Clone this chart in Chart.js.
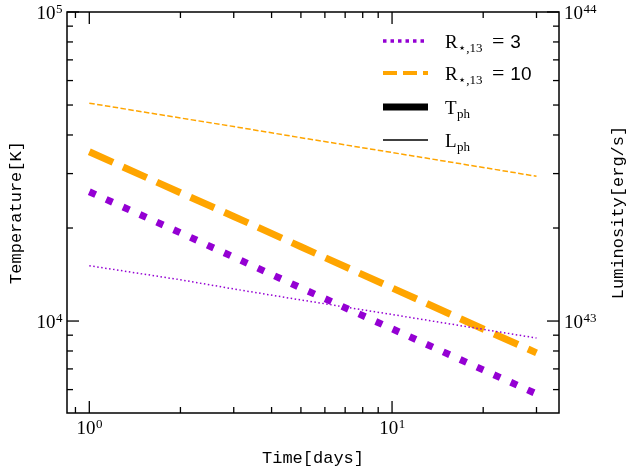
<!DOCTYPE html>
<html>
<head>
<meta charset="utf-8">
<script src="https://cdn.jsdelivr.net/npm/chart.js@4.4.1/dist/chart.umd.min.js"></script>
<style>
  html, body { margin: 0; padding: 0; background: #fff; }
  #wrap { width: 628px; height: 473px; }
</style>
</head>
<body>
<div id="wrap"><canvas id="chart" width="628" height="473"></canvas></div>
<script>
// values (power laws, straight in log-log)
const days = [1, 2, 3, 5, 10, 20, 30];
const tempR3 = [26200, 19300, 16100, 12800, 9440, 6950, 5810];
const tempR10 = [35300, 26000, 21800, 17400, 12800, 9420, 7890];
const lumR3 = [1.51e43, 1.36e43, 1.27e43, 1.17e43, 1.05e43, 9.40e42, 8.81e42];
const lumR10 = [5.07e43, 4.54e43, 4.26e43, 3.92e43, 3.51e43, 3.14e43, 2.94e43];

// ticks: positions, and base / exponent of the labelled ones
const xTicks = [0.9, 1, 2, 3, 4, 5, 6, 7, 8, 9, 10, 20, 30];
const xMajor = [1, 10];
const xMajorExp = ['0', '1'];
const tempTicks = [6000, 7000, 8000, 9000, 10000, 20000, 30000, 40000, 50000, 60000, 70000, 80000, 90000, 100000];
const tempMajor = [10000, 100000];
const tempMajorExp = ['4', '5'];
const lumTicks = [6e42, 7e42, 8e42, 9e42, 1e43, 2e43, 3e43, 4e43, 5e43, 6e43, 7e43, 8e43, 9e43, 1e44];
const lumMajor = [1e43, 1e44];
const lumMajorExp = ['43', '44'];

const PURPLE = '#9400D3';
const ORANGE = '#FFA500';
const SERIF = '"Liberation Serif", "DejaVu Serif", serif';
const SANS = '"Liberation Sans", Arial, sans-serif';
const MONO = '"Liberation Mono", "DejaVu Sans Mono", monospace';

function pts(ys) {
    return days.map((d, i) => ({ x: d, y: ys[i] }));
}

function isMajor(v) {
    const l = Math.log10(v);
    return Math.abs(l - Math.round(l)) < 1e-9;
}

// "10" with a raised exponent; align is 'left', 'right' or 'center' at x
function drawPower(ctx, exp, x, baseline, align) {
    ctx.font = '19px ' + SERIF;
    const wb = ctx.measureText('10').width;
    ctx.font = '13px ' + SERIF;
    const we = ctx.measureText(exp).width;
    let start = x;
    if (align === 'right') start = x - wb - we;
    if (align === 'center') start = x - (wb + we) / 2;
    ctx.textAlign = 'left';
    ctx.textBaseline = 'alphabetic';
    ctx.font = '19px ' + SERIF;
    ctx.fillText('10', start, baseline);
    ctx.font = '13px ' + SERIF;
    ctx.fillText(exp, start + wb + 0.5, baseline - 6);
}

// frame, inward ticks, tick labels, legend and right-hand title
const decorations = {
    id: 'decorations',
    afterDraw(chart) {
        const { ctx, chartArea: a, scales } = chart;
        ctx.save();
        ctx.strokeStyle = '#000';
        ctx.fillStyle = '#000';
        ctx.lineWidth = 1.3;
        const seg = (x1, y1, x2, y2) => {
            ctx.beginPath();
            ctx.moveTo(x1, y1);
            ctx.lineTo(x2, y2);
            ctx.stroke();
        };
        xTicks.forEach(v => {
            const px = scales.x.getPixelForValue(v);
            const len = isMajor(v) ? 12 : 6;
            seg(px, a.bottom, px, a.bottom - len);
            seg(px, a.top, px, a.top + len);
        });
        tempTicks.forEach(v => {
            const py = scales.yT.getPixelForValue(v);
            const len = isMajor(v) ? 12 : 6;
            seg(a.left, py, a.left + len, py);
        });
        lumTicks.forEach(v => {
            const py = scales.yL.getPixelForValue(v);
            const len = isMajor(v) ? 12 : 6;
            seg(a.right, py, a.right - len, py);
        });
        ctx.lineWidth = 1.5;
        ctx.strokeRect(a.left, a.top, a.right - a.left, a.bottom - a.top);

        // tick labels
        xMajor.forEach((v, i) => {
            drawPower(ctx, xMajorExp[i], scales.x.getPixelForValue(v), a.bottom + 21, 'center');
        });
        tempMajor.forEach((v, i) => {
            drawPower(ctx, tempMajorExp[i], a.left - 5, scales.yT.getPixelForValue(v) + 7, 'right');
        });
        lumMajor.forEach((v, i) => {
            drawPower(ctx, lumMajorExp[i], a.right + 5, scales.yL.getPixelForValue(v) + 7, 'left');
        });

        // legend
        const x0 = a.right - 176, x1 = a.right - 131, tx = a.right - 114;
        const rows = [
            { y: a.top + 29, color: PURPLE, width: 3.5, dash: [3.5, 4], main: 'R', sub: '⋆,13', num: '3' },
            { y: a.top + 61, color: ORANGE, width: 4, dash: [14, 6], main: 'R', sub: '⋆,13', num: '10' },
            { y: a.top + 95, color: '#000', width: 7, dash: [], main: 'T', sub: 'ph', num: '' },
            { y: a.top + 128, color: '#000', width: 1.5, dash: [], main: 'L', sub: 'ph', num: '' }
        ];
        rows.forEach(r => {
            ctx.save();
            ctx.strokeStyle = r.color;
            ctx.lineWidth = r.width;
            ctx.lineCap = 'butt';
            ctx.setLineDash(r.dash);
            seg(x0, r.y, x1, r.y);
            ctx.restore();
            ctx.textBaseline = 'alphabetic';
            ctx.textAlign = 'left';
            let x = tx;
            const base = r.y + 7;
            ctx.font = '19px ' + SERIF;
            ctx.fillText(r.main, x, base);
            x += ctx.measureText(r.main).width;
            ctx.font = '13px ' + SERIF;
            ctx.fillText(r.sub, x + 0.5, base + 4);
            x += ctx.measureText(r.sub).width;
            if (r.num) {
                x += 10;
                ctx.font = '22px ' + SERIF;
                ctx.fillText('=', x, base);
                x += ctx.measureText('=').width + 6;
                ctx.font = '19px ' + SANS;
                ctx.fillText(r.num, x, base);
            }
        });

        // right axis title, reading bottom to top like the left one
        ctx.save();
        ctx.translate(chart.width - 10, (a.top + a.bottom) / 2);
        ctx.rotate(-Math.PI / 2);
        ctx.font = '17px ' + MONO;
        ctx.textAlign = 'center';
        ctx.textBaseline = 'middle';
        ctx.fillText('Luminosity[erg/s]', 0, 0);
        ctx.restore();
        ctx.restore();
    }
};

new Chart(document.getElementById('chart'), {
    type: 'line',
    data: {
        datasets: [
            { data: pts(lumR3), yAxisID: 'yL', borderColor: PURPLE, borderWidth: 1.5, borderDash: [1.5, 2.5] },
            { data: pts(lumR10), yAxisID: 'yL', borderColor: ORANGE, borderWidth: 1.5, borderDash: [5.5, 2.4] },
            { data: pts(tempR3), yAxisID: 'yT', borderColor: PURPLE, borderWidth: 7, borderDash: [7, 11.5] },
            { data: pts(tempR10), yAxisID: 'yT', borderColor: ORANGE, borderWidth: 7, borderDash: [26, 11] }
        ]
    },
    options: {
        responsive: false,
        animation: false,
        devicePixelRatio: 1,
        layout: { padding: { top: 12, right: 0, bottom: 0, left: 0 } },
        elements: {
            point: { radius: 0 },
            line: { tension: 0, fill: false, borderCapStyle: 'butt' }
        },
        plugins: {
            legend: { display: false },
            tooltip: { enabled: false }
        },
        scales: {
            x: {
                type: 'logarithmic',
                min: 0.844,
                max: 35.6,
                grid: { display: false, drawTicks: false },
                border: { display: false },
                afterBuildTicks: s => { s.ticks = xTicks.map(v => ({ value: v })); },
                afterFit: s => { s.height = 60; },
                ticks: { display: false },
                title: { display: true, text: 'Time[days]', color: '#000', font: { family: MONO, size: 17 }, padding: { top: 4, bottom: 4 } }
            },
            yT: {
                type: 'logarithmic',
                position: 'left',
                min: 5040,
                max: 100000,
                grid: { display: false, drawTicks: false },
                border: { display: false },
                afterBuildTicks: s => { s.ticks = tempTicks.map(v => ({ value: v })); },
                afterFit: s => { s.width = 67; },
                ticks: { display: false },
                title: { display: true, text: 'Temperature[K]', color: '#000', font: { family: MONO, size: 17 }, padding: { top: 6, bottom: 4 } }
            },
            yL: {
                type: 'logarithmic',
                position: 'right',
                min: 5.04e42,
                max: 1e44,
                grid: { display: false, drawTicks: false },
                border: { display: false },
                afterBuildTicks: s => { s.ticks = lumTicks.map(v => ({ value: v })); },
                afterFit: s => { s.width = 69; },
                ticks: { display: false }
            }
        }
    },
    plugins: [decorations]
});
</script>
</body>
</html>
